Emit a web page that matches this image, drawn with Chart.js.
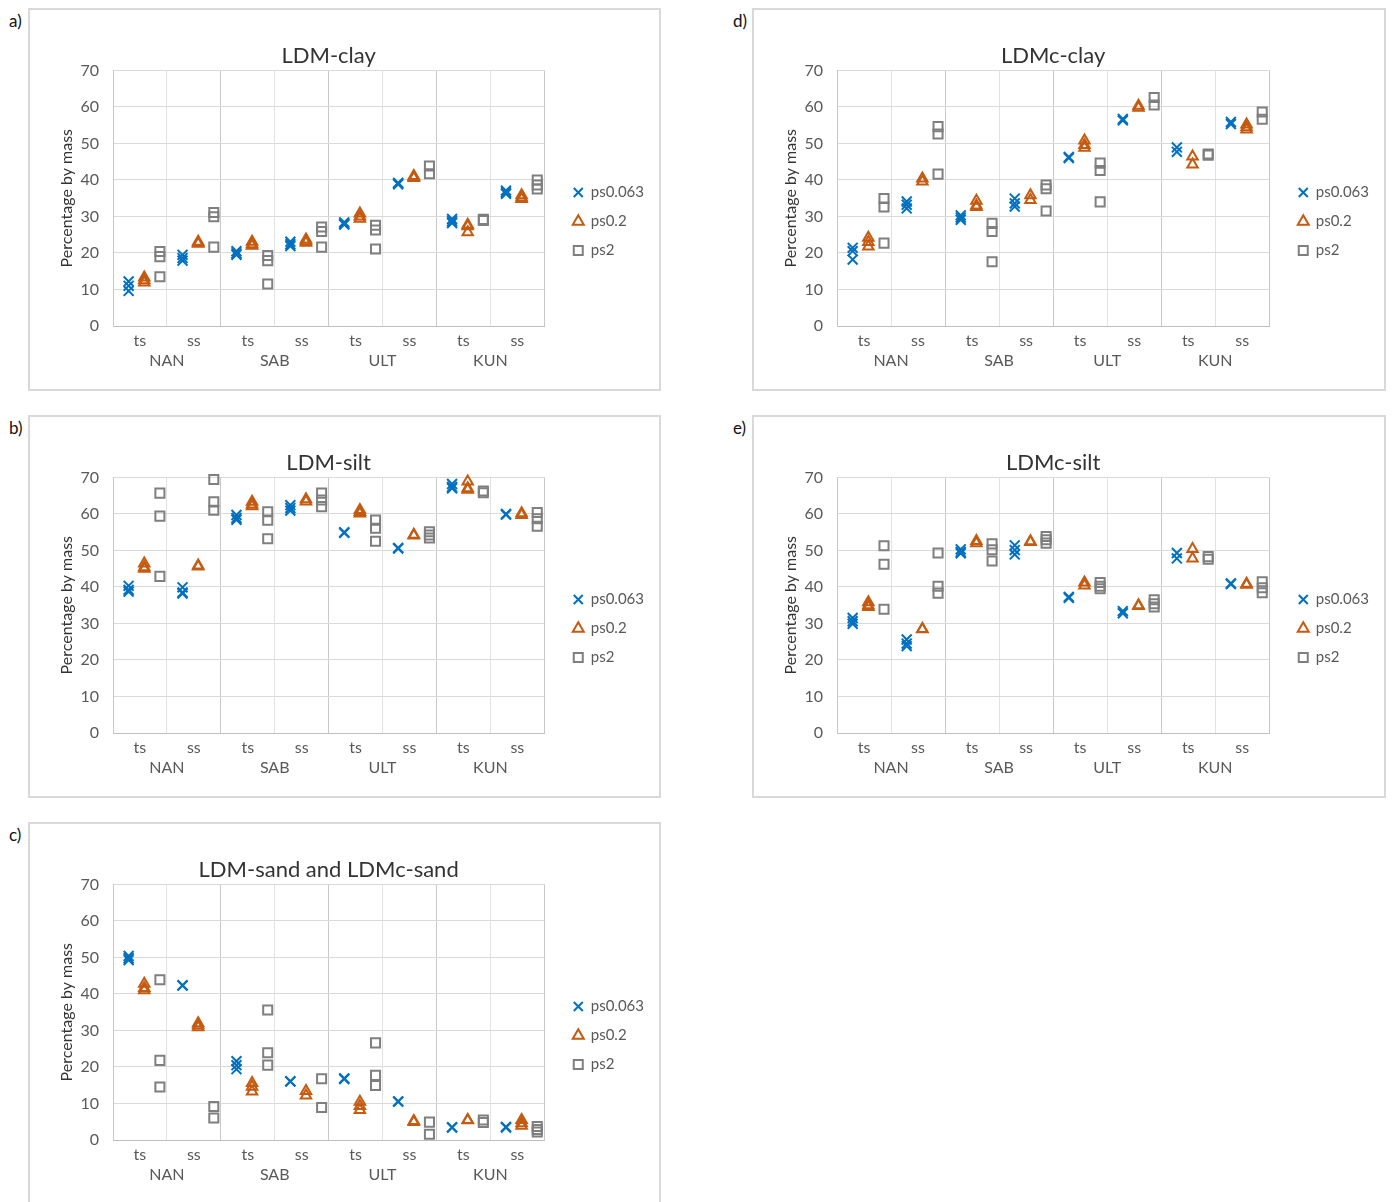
<!DOCTYPE html>
<html>
<head>
<meta charset="utf-8">
<script src="https://cdn.jsdelivr.net/npm/chart.js@4.4.1/dist/chart.umd.min.js"></script>
<style>
  html, body { margin: 0; padding: 0; background: #ffffff; }
  body { width: 1392px; height: 1202px; position: relative; overflow: hidden; font-family: Lato, "Open Sans", sans-serif; }
  .panel { position: absolute; box-sizing: border-box; border: 2px solid #d9d9d9; background: #fff; }
  .panel canvas { position: absolute; left: 0; top: 0; }
  .tag { position: absolute; font-size: 17px; line-height: 20px; color: #111; }
</style>
</head>
<body>
<div class="tag" style="left:9px;top:11px">a)</div>
<div class="tag" style="left:733px;top:11px">d)</div>
<div class="tag" style="left:9px;top:418px">b)</div>
<div class="tag" style="left:733px;top:418px">e)</div>
<div class="tag" style="left:9px;top:825px">c)</div>

<div class="panel" style="left:28px;top:8px;width:633px;height:383px"><canvas id="cA" width="629" height="379"></canvas></div>
<div class="panel" style="left:752px;top:8px;width:634px;height:383px"><canvas id="cD" width="630" height="379"></canvas></div>
<div class="panel" style="left:28px;top:415px;width:633px;height:383px"><canvas id="cB" width="629" height="379"></canvas></div>
<div class="panel" style="left:752px;top:415px;width:634px;height:383px"><canvas id="cE" width="630" height="379"></canvas></div>
<div class="panel" style="left:28px;top:822px;width:633px;height:383px"><canvas id="cC" width="629" height="379"></canvas></div>

<script>
// ---------- categories ----------
const sites = ['NAN', 'SAB', 'ULT', 'KUN'];
const sampleTypes = ['ts', 'ss'];
const seriesNames = ['ps0.063', 'ps0.2', 'ps2'];
const yTicks = [0, 10, 20, 30, 40, 50, 60, 70];

// ---------- a) LDM-clay  (per category: NAN ts, NAN ss, SAB ts, SAB ss, ULT ts, ULT ss, KUN ts, KUN ss) ----------
const ldmClay_ps0063 = [[12.2, 11.0, 9.6], [19.5, 18.6, 17.9], [20.5, 19.9, 19.5], [23.1, 22.4, 21.9], [28.4, 28.0, 27.8], [39.2, 39.0, 38.8], [29.3, 28.7, 28.2], [37.1, 36.6, 36.2]];
const ldmClay_ps02   = [[13.3, 12.5, 11.9], [23.1, 22.8, 22.5], [23.1, 22.4, 22.0], [23.7, 23.2, 22.8], [30.8, 30.0, 29.4], [41.1, 40.8, 40.5], [27.7, 27.3, 25.7], [35.8, 35.2, 34.8]];
const ldmClay_ps2    = [[20.4, 19.0, 13.5], [31.1, 29.9, 21.6], [19.3, 17.9, 11.5], [27.1, 25.9, 21.6], [27.6, 26.3, 21.1], [43.8, 41.7], [29.2, 28.9], [40.0, 38.6, 37.5]];

// ---------- d) LDMc-clay ----------
const ldmcClay_ps0063 = [[21.4, 20.5, 18.2], [34.1, 33.2, 32.2], [30.3, 29.7, 29.1], [34.9, 33.6, 32.7], [46.3, 46.0], [56.7, 56.3], [48.9, 47.7], [55.9, 55.3]];
const ldmcClay_ps02   = [[24.2, 23.0, 21.8], [40.4, 39.6], [34.3, 33.0, 32.6], [35.8, 34.5], [50.8, 49.6, 48.8], [60.3, 59.8], [46.4, 44.2], [55.2, 54.4, 53.8]];
const ldmcClay_ps2    = [[34.9, 32.6, 22.7], [54.6, 52.6, 41.6], [28.1, 25.9, 17.6], [38.6, 37.6, 31.5], [44.6, 42.6, 34.0], [62.6, 60.5], [47.1, 46.8], [58.6, 56.6]];

// ---------- b) LDM-silt ----------
const ldmSilt_ps0063 = [[40.3, 39.2, 38.7], [39.9, 38.5, 38.2], [59.7, 58.9, 58.4], [62.4, 61.6, 60.9], [55.0, 54.8], [50.7, 50.5], [68.2, 67.4, 67.0], [60.0, 59.8]];
const ldmSilt_ps02   = [[46.4, 45.4, 45.0], [45.9, 45.6], [63.3, 62.6, 62.1], [64.0, 63.4], [61.1, 60.5, 60.1], [54.3, 54.1], [68.9, 67.0, 66.6], [60.2, 59.7]];
const ldmSilt_ps2    = [[65.7, 59.4, 42.9], [69.4, 63.3, 61.0], [60.6, 58.3, 53.2], [65.7, 63.8, 62.0], [58.3, 56.1, 52.5], [55.1, 54.2, 53.4], [66.3, 65.8], [60.4, 58.7, 56.6]];

// ---------- e) LDMc-silt ----------
const ldmcSilt_ps0063 = [[31.5, 30.6, 29.9], [25.6, 24.5, 23.8], [50.3, 49.6, 49.2], [51.4, 50.1, 48.9], [37.3, 37.0], [33.4, 32.8], [49.3, 47.8], [41.0, 40.8]];
const ldmcSilt_ps02   = [[35.8, 35.0, 34.5], [28.5, 28.4], [52.6, 52.0], [52.5, 52.3], [41.2, 40.4], [35.0, 34.8], [50.4, 47.8], [40.9, 40.6]];
const ldmcSilt_ps2    = [[51.3, 46.2, 33.9], [49.3, 40.2, 38.3], [51.8, 50.2, 47.1], [53.8, 52.9, 52.0], [41.2, 40.2, 39.5], [36.5, 35.4, 34.5], [48.3, 47.6], [41.4, 39.8, 38.4]];

// ---------- c) LDM-sand and LDMc-sand ----------
const sand_ps0063 = [[50.4, 49.8, 49.3], [42.4, 42.3], [21.6, 20.5, 19.4], [16.1, 16.0], [16.9, 16.7], [10.6, 10.5], [3.5, 3.4], [3.6, 3.4]];
const sand_ps02   = [[42.8, 41.6, 41.0], [32.0, 31.4, 30.9], [15.6, 14.6, 13.3], [13.4, 12.2], [10.5, 9.3, 8.2], [5.2, 4.9], [5.5, 5.4], [5.5, 4.6, 3.9]];
const sand_ps2    = [[43.9, 21.8, 14.5], [9.2, 6.0], [35.6, 23.9, 20.5], [16.8, 8.9], [26.6, 17.7, 14.9], [4.9, 1.6], [5.5, 4.8], [3.7, 2.9, 2.2]];

// ---------- styling ----------
const FONT = 'Lato, "Open Sans", sans-serif';
Chart.defaults.font.family = FONT;
const seriesStyle = [
  { pointStyle: 'crossRot', color: '#0070C0', radius: 7 },
  { pointStyle: 'triangle', color: '#C55A11', radius: 6 },
  { pointStyle: 'rect', color: '#7F7F7F', radius: 6.4 }
];
const subOffset = [0.29, 0.58, 0.87]; // position of each series inside a category slot

const nCat = sites.length * sampleTypes.length;
const xTickValues = [];
for (let i = 0; i <= nCat * 2; i++) xTickValues.push(i / 2);

function xLabel(v) {
  if (Math.abs(v % 1 - 0.5) < 1e-6) {
    return sampleTypes[Math.floor(v) % sampleTypes.length];
  }
  if (Math.abs(v % 2 - 1) < 1e-6) {
    return ['', sites[(v - 1) / 2]];
  }
  return '';
}

function toPoints(values, s) {
  const pts = [];
  values.forEach((arr, i) => arr.forEach(v => pts.push({ x: i + subOffset[s], y: v })));
  return pts;
}

function makeChart(id, title, seriesValues) {
  const datasets = seriesValues.map((vals, s) => ({
    label: seriesNames[s],
    data: toPoints(vals, s),
    pointStyle: seriesStyle[s].pointStyle,
    pointRadius: seriesStyle[s].radius,
    pointHoverRadius: seriesStyle[s].radius,
    borderColor: seriesStyle[s].color,
    backgroundColor: 'rgba(255,255,255,0)',
    pointBorderWidth: 2,
    borderWidth: 2,
    showLine: false,
    clip: false
  }));
  new Chart(document.getElementById(id), {
    type: 'scatter',
    data: { datasets },
    options: {
      responsive: false,
      animation: false,
      devicePixelRatio: 1,
      layout: { padding: { left: 23, right: 5, top: 0, bottom: 13 } },
      plugins: {
        tooltip: { enabled: false },
        title: {
          display: true, text: title, fullSize: false, color: '#333333',
          font: { family: FONT, size: 22, weight: 'normal', lineHeight: 1.2 },
          padding: { top: 33, bottom: 1 }
        },
        legend: {
          position: 'right', align: 'center',
          title: { display: true, text: '', font: { size: 10, lineHeight: 1.2 }, padding: { top: 45, bottom: 0 } },
          labels: {
            usePointStyle: true, boxWidth: 10, boxHeight: 9, padding: 14,
            color: '#595959', font: { family: FONT, size: 15 }
          }
        }
      },
      scales: {
        x: {
          type: 'linear', min: 0, max: nCat,
          afterBuildTicks: sc => { sc.ticks = xTickValues.map(v => ({ value: v })); },
          ticks: {
            autoSkip: false, maxRotation: 0, minRotation: 0, padding: 5,
            color: '#595959', font: { family: FONT, size: 16, lineHeight: 1.25 },
            callback: v => xLabel(v)
          },
          grid: {
            drawTicks: false,
            color: ctx => {
              const v = ctx.tick ? ctx.tick.value : 0;
              if (Math.abs(v % 2) < 1e-6) return '#c9c9c9';
              if (Math.abs(v % 1) < 1e-6) return '#e2e2e2';
              return 'rgba(0,0,0,0)';
            }
          },
          border: { color: '#bfbfbf', width: 1 }
        },
        y: {
          min: yTicks[0], max: yTicks[yTicks.length - 1],
          afterBuildTicks: sc => { sc.ticks = yTicks.map(v => ({ value: v })); },
          afterFit: sc => { sc.width = 60; },
          ticks: { padding: 14, color: '#595959', font: { family: FONT, size: 16 } },
          grid: { drawTicks: false, color: '#dadada' },
          border: { color: '#c9c9c9', width: 1 },
          title: {
            display: true, text: 'Percentage by mass', color: '#333333',
            font: { family: FONT, size: 16 }, padding: { top: 4, bottom: 9 }
          }
        },
        spacer: {
          type: 'linear', position: 'right', display: true,
          grid: { display: false }, ticks: { display: false }, border: { display: false },
          afterFit: sc => { sc.width = 15; }
        }
      }
    }
  });
}

makeChart('cA', 'LDM-clay', [ldmClay_ps0063, ldmClay_ps02, ldmClay_ps2]);
makeChart('cD', 'LDMc-clay', [ldmcClay_ps0063, ldmcClay_ps02, ldmcClay_ps2]);
makeChart('cB', 'LDM-silt', [ldmSilt_ps0063, ldmSilt_ps02, ldmSilt_ps2]);
makeChart('cE', 'LDMc-silt', [ldmcSilt_ps0063, ldmcSilt_ps02, ldmcSilt_ps2]);
makeChart('cC', 'LDM-sand and LDMc-sand', [sand_ps0063, sand_ps02, sand_ps2]);
</script>
</body>
</html>
